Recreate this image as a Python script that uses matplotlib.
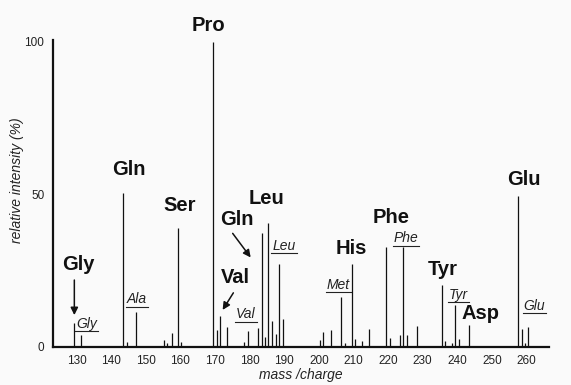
import matplotlib
matplotlib.use("Agg")
import matplotlib.pyplot as plt
from matplotlib.lines import Line2D

plt.rcParams["font.family"] = ["Liberation Sans", "DejaVu Sans"]

# peak list
mz = [129.3, 131.3, 143.4, 144.5, 147.3, 155.3, 156.0, 157.5, 159.2, 160.3,
      169.5, 170.5, 171.4, 173.4, 178.4, 179.4, 182.5, 183.5, 184.5, 185.4,
      186.5, 187.5, 188.5, 189.5,
      200.3, 201.3, 203.4, 206.4, 207.5, 209.5, 210.4, 212.4, 214.4,
      219.5, 220.5, 223.4, 224.4, 225.4, 228.4,
      235.5, 236.5, 238.5, 239.4, 240.5, 243.5,
      257.5, 258.6, 259.6, 260.5]
intensity = [7.8, 3.8, 50.5, 1.6, 11.3, 2.1, 1.0, 4.5, 39.0, 1.4,
             100, 5.4, 10.0, 6.3, 1.4, 5.1, 6.0, 37.3, 3.2, 40.4,
             8.5, 4.0, 27.0, 8.9,
             2.2, 4.6, 5.3, 16.2, 1.2, 27.1, 2.4, 1.7, 5.7,
             32.5, 2.8, 3.8, 32.5, 3.8, 6.8,
             20.3, 1.7, 1.2, 13.5, 2.4, 7.0,
             49.2, 5.8, 1.2, 6.4]

xticks = [130, 140, 150, 160, 170, 180, 190, 200, 210, 220, 230, 240, 250, 260]
yticks = [0, 50, 100]

# bold labels (residue assignments) and underlined italic labels
bold_labels = ["Pro", "Gln", "Ser", "Gly", "Leu", "Gln", "Val", "His", "Phe", "Tyr", "Asp", "Glu"]
bold_pos = [(168.2, 105.4), (145.1, 57.9), (159.9, 46.2), (130.4, 27.0), (184.9, 48.4),
            (176.35, 41.5), (175.9, 22.7), (209.5, 32.2), (220.8, 42.4), (235.8, 25.3),
            (246.7, 10.9), (259.2, 54.8)]
ital_labels = ["Gly", "Ala", "Val", "Leu", "Met", "Phe", "Tyr", "Glu"]
ital_pos = [(132.9, 7.4), (147.4, 15.5), (178.95, 10.6), (189.9, 33.0), (205.7, 20.2),
            (225.2, 35.5), (240.3, 17.0), (262.3, 13.4)]

bg = "#fafafa"
fig = plt.figure(figsize=(5.71, 3.85), dpi=100, facecolor=bg)
ax = fig.add_axes([0.0923, 0.1, 0.8692, 0.796], facecolor=bg)

ax.vlines(mz, 0, intensity, color="#111111", lw=0.9)

ax.set_xlim(123.1, 266.5)
ax.set_ylim(0, 100.5)
for s in ["top", "right"]:
    ax.spines[s].set_visible(False)
for s in ["left", "bottom"]:
    ax.spines[s].set_linewidth(1.6)
    ax.spines[s].set_color("#111111")
ax.set_xticks(xticks)
ax.set_yticks(yticks)
ax.tick_params(length=0, labelsize=8.5, colors="#222222")
ax.tick_params(axis="x", pad=6)
ax.tick_params(axis="y", pad=6)

fig.text(0.527, 1 - 375 / 385, "mass /charge", style="italic", fontsize=10,
         ha="center", va="center", color="#222222")
fig.text(17 / 571, 1 - 180 / 385, "relative intensity (%)", style="italic", fontsize=10,
         rotation=90, ha="center", va="center", color="#222222")

for lab, (x, y) in zip(bold_labels, bold_pos):
    ax.text(x, y, lab, fontsize=14.5, fontweight="bold", ha="center", va="center",
            clip_on=False, color="#111111")

ital_texts = []
for lab, (x, y) in zip(ital_labels, ital_pos):
    t = ax.text(x, y, lab, fontsize=10, style="italic", ha="center", va="center",
                color="#222222")
    ital_texts.append(t)

# arrows
arrow = dict(arrowstyle="-|>", color="#111111", lw=1.1, mutation_scale=11, shrinkA=0, shrinkB=0)
ax.annotate("", xy=(129.35, 10.3), xytext=(129.35, 21.8), arrowprops=arrow)
ax.annotate("", xy=(180.3, 29.2), xytext=(175.1, 37.1), arrowprops=arrow)
ax.annotate("", xy=(172.2, 12.0), xytext=(175.3, 17.6), arrowprops=arrow)

# underline the italic labels
fig.canvas.draw()
r = fig.canvas.get_renderer()
W, H = fig.bbox.width, fig.bbox.height
for t in ital_texts:
    bb = t.get_window_extent(r)
    y = bb.y0 - 0.5
    fig.add_artist(Line2D([(bb.x0 - 1) / W, (bb.x1 + 1) / W], [y / H, y / H],
                          color="#222222", lw=0.8))

fig.savefig("out.png", dpi=100, facecolor=bg)
